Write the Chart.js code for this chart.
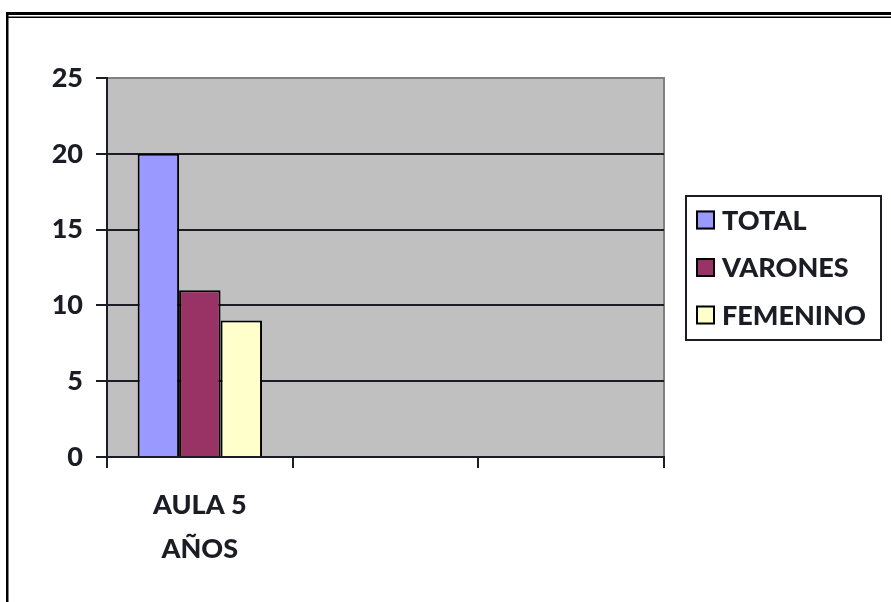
<!DOCTYPE html>
<html>
<head>
<meta charset="utf-8">
<script src="https://cdn.jsdelivr.net/npm/chart.js@4.4.0/dist/chart.umd.min.js"></script>
<style>
  html, body { margin: 0; padding: 0; background: #fff; }
  #wrap { width: 891px; height: 602px; }
</style>
</head>
<body>
<div id="wrap"><canvas id="myChart" width="891" height="602"></canvas></div>
<script>
// datos del grafico
const categorias = [["AULA 5", "AÑOS"], "", ""];
const series = ["TOTAL", "VARONES", "FEMENINO"];
const total = [20, null, null];
const varones = [11, null, null];
const femenino = [9, null, null];
const colores = ["#9999FF", "#993366", "#FFFFCC"];
const yTicks = [0, 5, 10, 15, 20, 25];

const tinta = "#1c1c24";
const fuente = { family: "Lato", weight: "900", size: 27 };

// fondo gris del area + marco de la hoja
const fondoPlugin = {
  id: "fondo",
  beforeDraw(chart) {
    const { ctx, chartArea: a } = chart;
    ctx.save();
    ctx.fillStyle = "#C0C0C0";
    ctx.fillRect(a.left, a.top, a.right - a.left, a.bottom - a.top);
    ctx.strokeStyle = "#808080";
    ctx.lineWidth = 2;
    ctx.beginPath();
    ctx.moveTo(a.left, a.top);
    ctx.lineTo(a.right, a.top);
    ctx.lineTo(a.right, a.bottom);
    ctx.stroke();
    ctx.restore();
  },
  afterDraw(chart) {
    const ctx = chart.ctx;
    ctx.save();
    ctx.fillStyle = "#000";
    ctx.fillRect(6, 12, 885, 3);
    ctx.fillRect(6, 16.5, 885, 1.5);
    ctx.fillRect(6, 12, 2.5, 590);
    ctx.restore();
  }
};

// leyenda con recuadro a la derecha
const leyendaPlugin = {
  id: "leyenda",
  afterDraw(chart) {
    const ctx = chart.ctx;
    ctx.save();
    ctx.strokeStyle = tinta;
    ctx.lineWidth = 2;
    ctx.strokeRect(686, 196, 195, 144);
    ctx.font = "900 27px Lato";
    ctx.textBaseline = "middle";
    chart.data.datasets.forEach((ds, i) => {
      const cy = 220 + i * 47.5;
      ctx.fillStyle = ds.backgroundColor;
      ctx.fillRect(696, cy - 9.5, 19, 19);
      ctx.strokeStyle = "#000";
      ctx.lineWidth = 2;
      ctx.strokeRect(697, cy - 8.5, 17, 17);
      ctx.fillStyle = tinta;
      ctx.fillText(ds.label, 722, cy + 1);
    });
    ctx.restore();
  }
};

const datos = [total, varones, femenino];

const myChart = new Chart(document.getElementById("myChart").getContext("2d"), {
  type: "bar",
  data: {
    labels: categorias,
    datasets: series.map((s, i) => ({
      label: s,
      data: datos[i],
      backgroundColor: colores[i],
      borderColor: "#000",
      borderWidth: 2,
      categoryPercentage: 0.67,
      barPercentage: 1
    }))
  },
  options: {
    responsive: false,
    animation: false,
    devicePixelRatio: 1,
    layout: { padding: { left: 27, top: 78, right: 227, bottom: 25 } },
    plugins: { legend: { display: false }, tooltip: { enabled: false } },
    scales: {
      x: {
        offset: true,
        grid: {
          offset: true,
          drawOnChartArea: false,
          tickLength: 11,
          color: tinta,
          lineWidth: 2
        },
        border: { display: true, color: tinta, width: 2 },
        ticks: { color: tinta, font: { ...fuente, lineHeight: 1.6 }, padding: 16, maxRotation: 0 },
        afterFit: (s) => { s.height = 120; }
      },
      y: {
        min: 0,
        max: 25,
        afterBuildTicks: (s) => { s.ticks = yTicks.map((v) => ({ value: v })); },
        grid: {
          color: (c) => (c.tick && c.tick.value === 25 ? "#808080" : tinta),
          lineWidth: 2,
          tickLength: 11,
          tickColor: tinta
        },
        border: { display: true, color: tinta, width: 2 },
        ticks: { color: tinta, font: fuente, padding: 13 },
        afterFit: (s) => { s.width = 80; }
      }
    }
  },
  plugins: [fondoPlugin, leyendaPlugin]
});
</script>
</body>
</html>
